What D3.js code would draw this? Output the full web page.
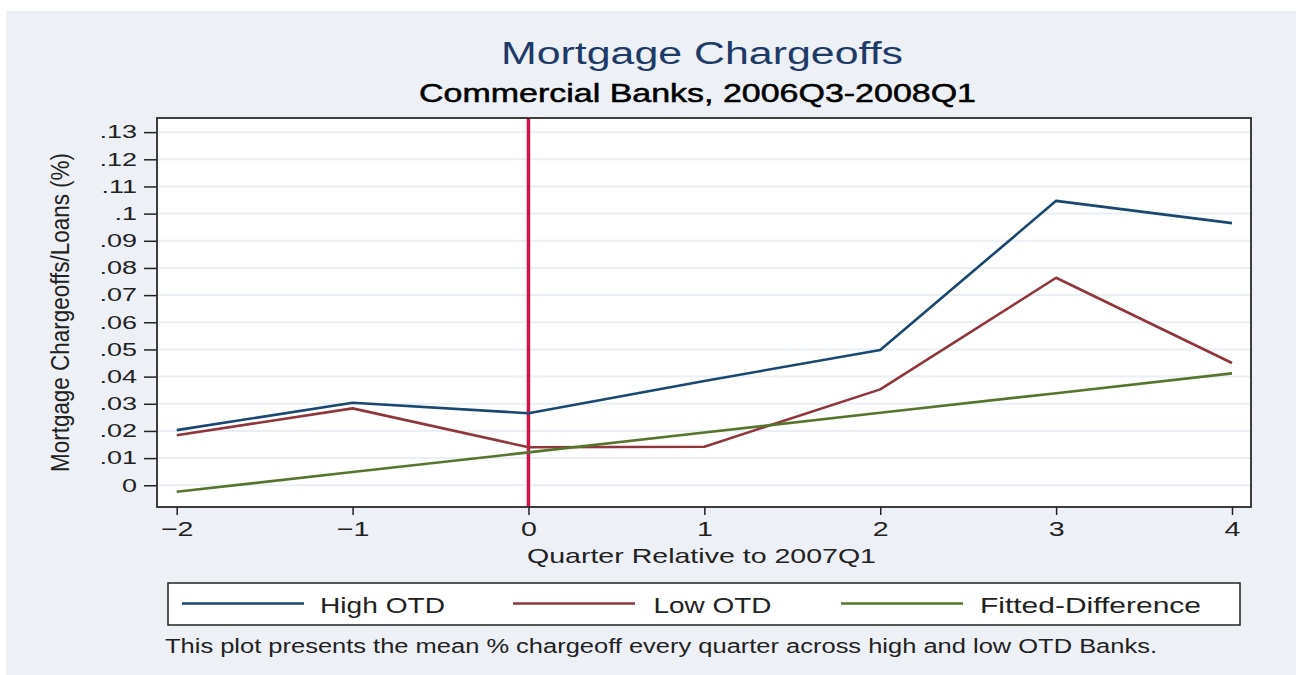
<!DOCTYPE html>
<html>
<head>
<meta charset="utf-8">
<script src="https://cdnjs.cloudflare.com/ajax/libs/d3/7.8.5/d3.min.js"></script>
<style>
  body { margin: 0; background: #fff; }
  text { font-family: "Liberation Sans", Arial, sans-serif; }
</style>
</head>
<body>
<svg id="chart" width="1296" height="675"></svg>
<script>
// values
var quarters = [-2, -1, 0, 1, 2, 3, 4];
var highOTD = [0.0203, 0.0304, 0.0265, 0.0384, 0.0498, 0.1047, 0.0965];
var lowOTD = [0.0184, 0.0283, 0.0140, 0.0142, 0.0353, 0.0764, 0.0450];
var fittedDiff = [-0.0024, 0.0049, 0.0121, 0.0194, 0.0267, 0.0339, 0.0412];

var yTicks = [0, .01, .02, .03, .04, .05, .06, .07, .08, .09, .1, .11, .12, .13];
var yTickLabels = ["0", ".01", ".02", ".03", ".04", ".05", ".06", ".07", ".08", ".09", ".1", ".11", ".12", ".13"];
var xTicks = [-2, -1, 0, 1, 2, 3, 4];
var xTickLabels = ["\u22122", "\u22121", "0", "1", "2", "3", "4"];

var seriesNames = ["High OTD", "Low OTD", "Fitted-Difference"];
var seriesColors = ["#1a476f", "#90353b", "#55752f"];

var svg = d3.select("#chart");

// stretch text sideways, the source image is wider than it was drawn
function stretch(sel, k) {
  sel.each(function() {
    var w = this.getComputedTextLength();
    d3.select(this).attr("textLength", w * k).attr("lengthAdjust", "spacingAndGlyphs");
  });
}

svg.append("rect")
    .attr("x", 6).attr("y", 11)
    .attr("width", 1290).attr("height", 664)
    .attr("fill", "#edf0f5");

var plot = {left: 157, right: 1251, top: 118, bottom: 507};

var x = d3.scaleLinear().domain([-2.112, 4.108]).range([plot.left, plot.right]);
var y = d3.scaleLinear().domain([-0.008, 0.1352]).range([plot.bottom, plot.top]);

svg.append("rect")
    .attr("x", plot.left).attr("y", plot.top)
    .attr("width", plot.right - plot.left).attr("height", plot.bottom - plot.top)
    .attr("fill", "#fff");

// grid
svg.append("g").selectAll("line")
    .data(yTicks)
  .enter().append("line")
    .attr("x1", plot.left).attr("x2", plot.right)
    .attr("y1", function(d) { return y(d); })
    .attr("y2", function(d) { return y(d); })
    .attr("stroke", "#eaeff5")
    .attr("stroke-width", 2);

// axes
var yAxis = svg.append("g")
    .attr("transform", "translate(" + plot.left + ",0)")
    .call(d3.axisLeft(y).tickValues(yTicks).tickSize(13).tickPadding(7)
      .tickFormat(function(d, i) { return yTickLabels[i]; }));
yAxis.select(".domain").remove();
yAxis.selectAll(".tick line").attr("stroke", "#222").attr("stroke-width", 1.5);
yAxis.selectAll(".tick text")
    .attr("font-size", 18).attr("fill", "#222")
    .attr("font-family", "Liberation Sans, Arial, sans-serif");
stretch(yAxis.selectAll(".tick text"), 1.5);

var xAxis = svg.append("g")
    .attr("transform", "translate(0," + plot.bottom + ")")
    .call(d3.axisBottom(x).tickValues(xTicks).tickSize(8).tickPadding(6)
      .tickFormat(function(d, i) { return xTickLabels[i]; }));
xAxis.select(".domain").remove();
xAxis.selectAll(".tick line").attr("stroke", "#222").attr("stroke-width", 1.5);
xAxis.selectAll(".tick text")
    .attr("font-size", 21).attr("fill", "#222")
    .attr("font-family", "Liberation Sans, Arial, sans-serif");
stretch(xAxis.selectAll(".tick text"), 1.36);

// event line at quarter 0
svg.append("line")
    .attr("x1", x(0)).attr("x2", x(0))
    .attr("y1", plot.top).attr("y2", plot.bottom)
    .attr("stroke", "#d0144a")
    .attr("stroke-width", 3.5);

var line = d3.line()
    .x(function(d) { return x(d[0]); })
    .y(function(d) { return y(d[1]); });

var allSeries = [highOTD, lowOTD, fittedDiff];
svg.append("g").selectAll("path")
    .data(allSeries)
  .enter().append("path")
    .attr("d", function(vals) { return line(d3.zip(quarters, vals)); })
    .attr("fill", "none")
    .attr("stroke", function(d, i) { return seriesColors[i]; })
    .attr("stroke-width", 2.6)
    .attr("stroke-linejoin", "round");

// plot frame
svg.append("rect")
    .attr("x", plot.left).attr("y", plot.top)
    .attr("width", plot.right - plot.left).attr("height", plot.bottom - plot.top)
    .attr("fill", "none")
    .attr("stroke", "#2a2a2a")
    .attr("stroke-width", 1.8);

// titles
svg.append("text")
    .attr("x", 501).attr("y", 64)
    .attr("font-size", 31).attr("fill", "#1f3a68")
    .attr("textLength", 402).attr("lengthAdjust", "spacingAndGlyphs")
    .text("Mortgage Chargeoffs");

svg.append("text")
    .attr("x", 419).attr("y", 101.5)
    .attr("font-size", 25).attr("fill", "#000")
    .attr("stroke", "#000").attr("stroke-width", 0.5)
    .attr("textLength", 557).attr("lengthAdjust", "spacingAndGlyphs")
    .text("Commercial Banks, 2006Q3-2008Q1");

svg.append("text")
    .attr("x", 527).attr("y", 563)
    .attr("font-size", 21).attr("fill", "#222")
    .attr("textLength", 349).attr("lengthAdjust", "spacingAndGlyphs")
    .text("Quarter Relative to 2007Q1");

svg.append("text")
    .attr("transform", "translate(69,312.5) scale(1.2,1) rotate(-90)")
    .attr("text-anchor", "middle")
    .attr("font-size", 22).attr("fill", "#222")
    .attr("textLength", 319).attr("lengthAdjust", "spacingAndGlyphs")
    .text("Mortgage Chargeoffs/Loans (%)");

// legend
svg.append("rect")
    .attr("x", 168).attr("y", 583)
    .attr("width", 1072).attr("height", 42)
    .attr("fill", "#fff")
    .attr("stroke", "#222")
    .attr("stroke-width", 1.5);

var legendLineX = [182, 513, 841];
var legendTextX = [320, 653.5, 980];
var legendTextW = [125, 118, 221];

var legend = svg.append("g").selectAll("g")
    .data(seriesNames)
  .enter().append("g");

legend.append("line")
    .attr("x1", function(d, i) { return legendLineX[i]; })
    .attr("x2", function(d, i) { return legendLineX[i] + 122; })
    .attr("y1", 603.5).attr("y2", 603.5)
    .attr("stroke", function(d, i) { return seriesColors[i]; })
    .attr("stroke-width", 2.6);

legend.append("text")
    .attr("x", function(d, i) { return legendTextX[i]; })
    .attr("y", 612.5)
    .attr("font-size", 22).attr("fill", "#222")
    .attr("textLength", function(d, i) { return legendTextW[i]; })
    .attr("lengthAdjust", "spacingAndGlyphs")
    .text(function(d) { return d; });

svg.append("text")
    .attr("x", 165).attr("y", 653)
    .attr("font-size", 19.5).attr("fill", "#222")
    .attr("textLength", 992).attr("lengthAdjust", "spacingAndGlyphs")
    .text("This plot presents the mean % chargeoff every quarter across high and low OTD Banks.");
</script>
</body>
</html>
